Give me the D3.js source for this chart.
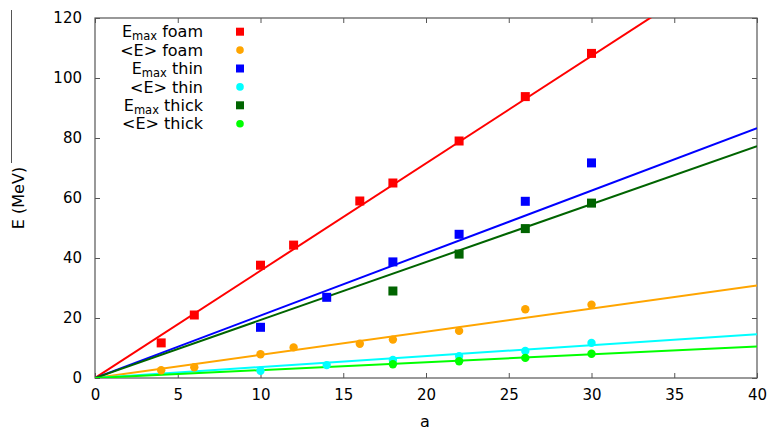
<!DOCTYPE html>
<html>
<head>
<meta charset="utf-8">
<script src="https://cdn.jsdelivr.net/npm/d3@7"></script>
<style>
  body { margin: 0; background: #fff; }
  text { font-family: "DejaVu Sans", sans-serif; fill: #000; }
</style>
</head>
<body>
<div id="chart"></div>
<script>
// x values (a) per target
const aFoam = [4, 6, 10, 12, 16, 18, 22, 26, 30];
const aThin = [10, 14, 18, 22, 26, 30];
const aThick = [18, 22, 26, 30];

// measured energies (MeV)
const emaxFoam = [11.7, 21, 37.6, 44.3, 59, 65, 79, 93.8, 108.2];
const meanFoam = [2.6, 3.6, 7.9, 10.2, 11.4, 12.8, 15.7, 22.9, 24.4];
const emaxThin = [16.9, 26.9, 38.7, 47.9, 58.9, 71.7];
const meanThin = [2.4, 4.3, 6.0, 7.3, 9.0, 11.7];
const emaxThick = [29, 41.3, 49.8, 58.3];
const meanThick = [4.6, 5.6, 6.7, 8.1];

// fit lines, end points read at a = 0 and a = 40
const fitA = [0, 40];
const fitEmaxFoam = [0, 143.1];
const fitMeanFoam = [0, 30.8];
const fitEmaxThin = [0, 83.3];
const fitMeanThin = [0, 14.6];
const fitEmaxThick = [0, 77.3];
const fitMeanThick = [0, 10.5];

const xTicks = [0, 5, 10, 15, 20, 25, 30, 35, 40];
const yTicks = [0, 20, 40, 60, 80, 100, 120];

const series = [
    { name: "foam", kind: "max", color: "#ff0000", a: aFoam, e: emaxFoam, fit: fitEmaxFoam },
    { name: "foam", kind: "mean", color: "#ffa500", a: aFoam, e: meanFoam, fit: fitMeanFoam },
    { name: "thin", kind: "max", color: "#0000ff", a: aThin, e: emaxThin, fit: fitEmaxThin },
    { name: "thin", kind: "mean", color: "#00ffff", a: aThin, e: meanThin, fit: fitMeanThin },
    { name: "thick", kind: "max", color: "#006400", a: aThick, e: emaxThick, fit: fitEmaxThick },
    { name: "thick", kind: "mean", color: "#00ff00", a: aThick, e: meanThick, fit: fitMeanThick }
];

const W = 768, H = 431;
const svg = d3.select("#chart").append("svg")
    .attr("width", W)
    .attr("height", H);

const x = d3.scaleLinear().domain([0, 40]).range([95, 757]);
const y = d3.scaleLinear().domain([0, 120]).range([378, 18]);

svg.append("clipPath").attr("id", "plotClip")
    .append("rect")
    .attr("x", x(0)).attr("y", y(120))
    .attr("width", x(40) - x(0)).attr("height", y(0) - y(120));

// stray rule left of the y label
svg.append("line")
    .attr("x1", 11.5).attr("x2", 11.5)
    .attr("y1", 10).attr("y2", 163)
    .attr("stroke", "#555").attr("stroke-width", 1);

// axes with inward ticks on all sides
const frameColor = "#555";
const tickLen = 5;
const styleAxis = g => {
    g.select(".domain").remove();
    g.selectAll(".tick line").attr("stroke", frameColor);
};

svg.append("g")
    .attr("transform", `translate(0,${y(0)})`)
    .call(d3.axisBottom(x).tickValues(xTicks).tickSize(-tickLen).tickPadding(11))
    .call(styleAxis)
    .selectAll("text").style("font-size", "15px").attr("fill", "#000");

svg.append("g")
    .attr("transform", `translate(0,${y(120)})`)
    .call(d3.axisTop(x).tickValues(xTicks).tickSize(-tickLen).tickFormat(""))
    .call(styleAxis);

svg.append("g")
    .attr("transform", `translate(${x(0)},0)`)
    .call(d3.axisLeft(y).tickValues(yTicks).tickSize(-tickLen).tickPadding(13))
    .call(styleAxis)
    .selectAll("text").style("font-size", "15px").attr("fill", "#000");

svg.append("g")
    .attr("transform", `translate(${x(40)},0)`)
    .call(d3.axisRight(y).tickValues(yTicks).tickSize(-tickLen).tickFormat(""))
    .call(styleAxis);

svg.append("rect")
    .attr("x", x(0)).attr("y", y(120))
    .attr("width", x(40) - x(0)).attr("height", y(0) - y(120))
    .attr("fill", "none")
    .attr("stroke", frameColor)
    .attr("stroke-width", 1.2);

// fit lines
const line = d3.line()
    .x(d => x(d[0]))
    .y(d => y(d[1]));

const plot = svg.append("g").attr("clip-path", "url(#plotClip)");

plot.selectAll(".fit")
    .data(series)
    .enter()
    .append("path")
    .attr("class", "fit")
    .attr("d", s => line(fitA.map((a, i) => [a, s.fit[i]])))
    .attr("fill", "none")
    .attr("stroke", s => s.color)
    .attr("stroke-width", 2);

// data points
const sq = 9, rad = 4.2;
series.forEach(s => {
    const pts = s.a.map((a, i) => [a, s.e[i]]);
    if (s.kind === "max") {
        plot.selectAll(null)
            .data(pts)
            .enter()
            .append("rect")
            .attr("x", d => x(d[0]) - sq / 2)
            .attr("y", d => y(d[1]) - sq / 2)
            .attr("width", sq)
            .attr("height", sq)
            .attr("fill", s.color);
    } else {
        plot.selectAll(null)
            .data(pts)
            .enter()
            .append("circle")
            .attr("cx", d => x(d[0]))
            .attr("cy", d => y(d[1]))
            .attr("r", rad)
            .attr("fill", s.color);
    }
});

// legend
const legend = svg.append("g");
series.forEach((s, i) => {
    const ly = 31.7 + i * 18.4;
    const t = legend.append("text")
        .attr("x", 203)
        .attr("y", ly)
        .attr("dy", "0.35em")
        .attr("text-anchor", "end")
        .style("font-size", "16px");
    if (s.kind === "max") {
        t.append("tspan").text("E");
        t.append("tspan").attr("dy", 3).style("font-size", "11.5px").text("max");
        t.append("tspan").attr("dy", -3).text(" " + s.name);
    } else {
        t.text("<E> " + s.name);
    }
    if (s.kind === "max") {
        legend.append("rect")
            .attr("x", 240 - 4)
            .attr("y", ly - 4)
            .attr("width", 8).attr("height", 8)
            .attr("fill", s.color);
    } else {
        legend.append("circle")
            .attr("cx", 240).attr("cy", ly)
            .attr("r", 3.8)
            .attr("fill", s.color);
    }
});

// axis labels
svg.append("text")
    .attr("x", 425)
    .attr("y", 421)
    .attr("dy", "0.35em")
    .attr("text-anchor", "middle")
    .style("font-size", "16px")
    .text("a");

svg.append("text")
    .attr("transform", `translate(18,${(y(0) + y(120)) / 2}) rotate(-90)`)
    .attr("dy", "0.35em")
    .attr("text-anchor", "middle")
    .style("font-size", "16px")
    .text("E (MeV)");
</script>
</body>
</html>
